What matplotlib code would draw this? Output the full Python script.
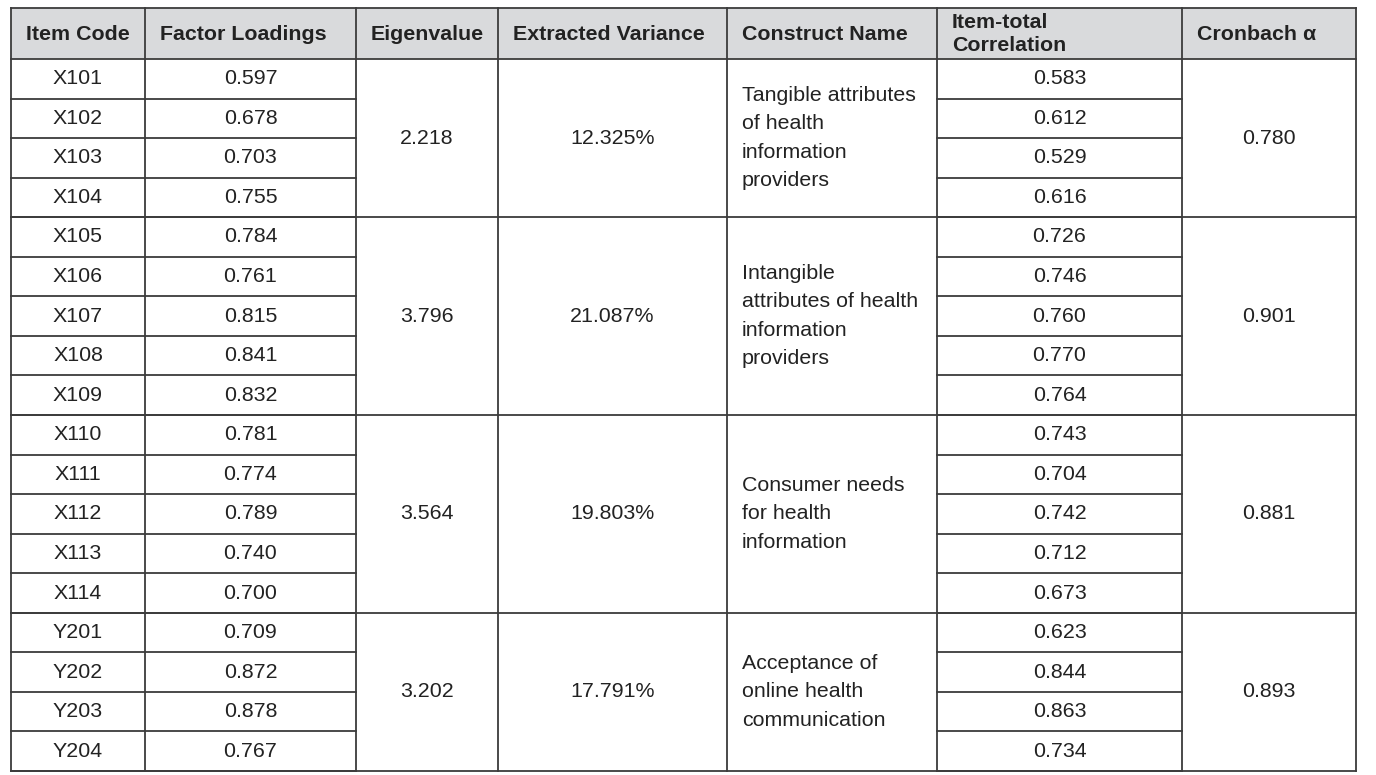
import matplotlib
matplotlib.use("Agg")
import matplotlib.pyplot as plt
from matplotlib.patches import Rectangle

plt.rcParams['font.family'] = ['Liberation Sans', 'DejaVu Sans']

# ---- data ----
headers = ["Item Code", "Factor Loadings", "Eigenvalue", "Extracted Variance",
           "Construct Name", "Item-total\nCorrelation", "Cronbach α"]
item_codes = ["X101", "X102", "X103", "X104",
              "X105", "X106", "X107", "X108", "X109",
              "X110", "X111", "X112", "X113", "X114",
              "Y201", "Y202", "Y203", "Y204"]
factor_loadings = ["0.597", "0.678", "0.703", "0.755",
                   "0.784", "0.761", "0.815", "0.841", "0.832",
                   "0.781", "0.774", "0.789", "0.740", "0.700",
                   "0.709", "0.872", "0.878", "0.767"]
item_total = ["0.583", "0.612", "0.529", "0.616",
              "0.726", "0.746", "0.760", "0.770", "0.764",
              "0.743", "0.704", "0.742", "0.712", "0.673",
              "0.623", "0.844", "0.863", "0.734"]
group_sizes = [4, 5, 5, 4]
eigenvalues = ["2.218", "3.796", "3.564", "3.202"]
extracted_variance = ["12.325%", "21.087%", "19.803%", "17.791%"]
construct_names = ["Tangible attributes\nof health\ninformation\nproviders",
                   "Intangible\nattributes of health\ninformation\nproviders",
                   "Consumer needs\nfor health\ninformation",
                   "Acceptance of\nonline health\ncommunication"]
cronbach = ["0.780", "0.901", "0.881", "0.893"]

# ---- layout (pixels) ----
W, H = 1376, 775
col_edges = [11, 145, 356, 498, 727, 937, 1182, 1356]
top, head_bot, bottom = 8, 59, 771
n_rows = len(item_codes)
row_h = (bottom - head_bot) / n_rows
line_c = "#3c3c3c"
txt_c = "#222222"
lw = 1.3
fs = 15.4

fig = plt.figure(figsize=(W / 100, H / 100), dpi=100)
ax = fig.add_axes([0, 0, 1, 1])
ax.set_xlim(0, W)
ax.set_ylim(H, 0)
ax.axis("off")

# header
ax.add_patch(Rectangle((col_edges[0], top), col_edges[-1] - col_edges[0], head_bot - top,
                       facecolor="#d9dadc", edgecolor="none", zorder=0))
for i, h in enumerate(headers):
    ax.text(col_edges[i] + 15, (top + head_bot) / 2 + 0.5, h, ha="left", va="center",
            fontsize=fs, fontweight="bold", color=txt_c, linespacing=1.33)

def hline(y, x0, x1):
    ax.plot([x0, x1], [y, y], color=line_c, lw=lw, solid_capstyle="projecting")

def vline(x, y0, y1):
    ax.plot([x, x], [y0, y1], color=line_c, lw=lw, solid_capstyle="projecting")

# outer / vertical lines
for x in col_edges:
    vline(x, top, bottom)
hline(top, col_edges[0], col_edges[-1])
hline(head_bot, col_edges[0], col_edges[-1])

def cx(i):
    return (col_edges[i] + col_edges[i + 1]) / 2

# rows
for r in range(n_rows):
    y0 = head_bot + r * row_h
    yc = y0 + row_h / 2
    ax.text(cx(0), yc, item_codes[r], ha="center", va="center", fontsize=fs, color=txt_c)
    ax.text(cx(1), yc, factor_loadings[r], ha="center", va="center", fontsize=fs, color=txt_c)
    ax.text(cx(5), yc, item_total[r], ha="center", va="center", fontsize=fs, color=txt_c)
    y1 = y0 + row_h
    hline(y1, col_edges[0], col_edges[2])
    hline(y1, col_edges[5], col_edges[6])

# groups
start = 0
for g, n in enumerate(group_sizes):
    y0 = head_bot + start * row_h
    y1 = y0 + n * row_h
    yc = (y0 + y1) / 2
    ax.text(cx(2), yc, eigenvalues[g], ha="center", va="center", fontsize=fs, color=txt_c)
    ax.text(cx(3), yc, extracted_variance[g], ha="center", va="center", fontsize=fs, color=txt_c)
    ax.text(col_edges[4] + 15, yc, construct_names[g], ha="left", va="center",
            fontsize=fs, color=txt_c, linespacing=1.615)
    ax.text(cx(6), yc, cronbach[g], ha="center", va="center", fontsize=fs, color=txt_c)
    hline(y1, col_edges[0], col_edges[-1])
    start += n

fig.savefig("out.png", dpi=100, facecolor="white")
